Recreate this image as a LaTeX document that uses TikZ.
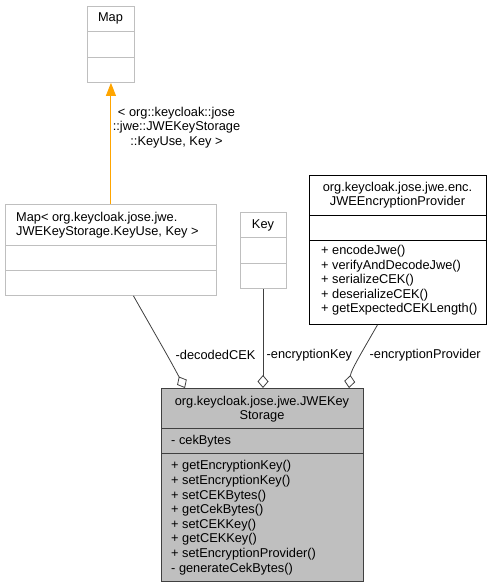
\documentclass[tikz,border=0pt]{standalone}
\usepackage{fontspec}
\setmainfont{Liberation Sans}
\usetikzlibrary{arrows.meta}
\definecolor{edgegray}{HTML}{404040}
\definecolor{boxgray}{HTML}{BFBFBF}
\definecolor{lightedge}{HTML}{BFBFBF}
\definecolor{inhorange}{HTML}{FFA500}
\tikzset{
  txt/.style={inner sep=0pt, font=\fontsize{12.8}{14.6}\selectfont, text=black},
  greybox/.style={draw=lightedge, line width=0.9pt, fill=white, inner sep=0pt, anchor=north west},
  blackbox/.style={draw=black, line width=0.9pt, fill=white, inner sep=0pt, anchor=north west},
  mainbox/.style={draw=edgegray, line width=1pt, fill=boxgray, inner sep=0pt, anchor=north west},
  agg/.style={draw=edgegray, line width=0.8pt, {Diamond[open,length=13pt,width=11pt,line width=0.8pt]}-},
  inh/.style={draw=inhorange, line width=1pt, -{Triangle[length=13pt,width=10pt]}}
}
\begin{document}
\begin{tikzpicture}[x=1pt,y=-1pt]
\useasboundingbox (0,0) rectangle (496,588);
% Map
\node[greybox, minimum width=47pt, minimum height=76pt] (map) at (87,6) {};
\draw[lightedge, line width=0.9pt] (87,31) -- (134,31) (87,57) -- (134,57);
\node[txt] (maptitle) at (110.5,18) {Map};
% Map< ... >
\node[greybox, minimum width=211pt, minimum height=91pt] (mapkv) at (5,204) {};
\draw[lightedge, line width=0.9pt] (5,245) -- (216,245) (5,270) -- (216,270);
\node[txt, anchor=west] (mapkv1) at (16,218) {Map< org.keycloak.jose.jwe.};
\node[txt, anchor=west] (mapkv2) at (16,232) {JWEKeyStorage.KeyUse, Key >};
% Key
\node[greybox, minimum width=46pt, minimum height=76pt] (key) at (240,212) {};
\draw[lightedge, line width=0.9pt] (240,237) -- (286,237) (240,263) -- (286,263);
\node[txt] (keytitle) at (263,225) {Key};
% JWEEncryptionProvider
\node[blackbox, minimum width=177pt, minimum height=149pt] (enc) at (309,175) {};
\draw[black, line width=0.9pt] (309,215) -- (486,215) (309,240) -- (486,240);
\node[txt] (enc1) at (397.5,188.5) {org.keycloak.jose.jwe.enc.};
\node[txt] (enc2) at (397.5,202.5) {JWEEncryptionProvider};
\node[txt, anchor=north west, align=left] (encm) at (321,245) {+ encodeJwe()\\+ verifyAndDecodeJwe()\\+ serializeCEK()\\+ deserializeCEK()\\+ getExpectedCEKLength()};
% Main class
\node[mainbox, minimum width=202pt, minimum height=193pt] (main) at (161,388) {};
\draw[edgegray, line width=1pt] (161,428) -- (363,428) (161,453) -- (363,453);
\node[txt] (main1) at (262,402) {org.keycloak.jose.jwe.JWEKey};
\node[txt] (main2) at (262,416) {Storage};
\node[txt, anchor=west] (attr) at (171,441) {- cekBytes};
\node[txt, anchor=north west, align=left] (mainm) at (171,460.5) {+ getEncryptionKey()\\+ setEncryptionKey()\\+ setCEKBytes()\\+ getCekBytes()\\+ setCEKKey()\\+ getCEKKey()\\+ setEncryptionProvider()\\- generateCekBytes()};
% inheritance
\draw[inh] (mapkv.north -| map.south) -- (map.south);
\node[txt, align=center] (inhlbl) at (176.5,127.5) {< org::keycloak::jose\\::jwe::JWEKeyStorage\\::KeyUse, Key >};
% aggregations
\coordinate (d1) at (185,388);
\coordinate (d2) at (263,388);
\coordinate (d3) at (349,388);
\draw[agg] (d1) .. controls (170,360) .. ([xshift=22.5pt]mapkv.south);
\draw[agg] (d2) -- (d2 |- key.south);
\draw[agg] (d3) .. controls (351,370) and (362,352) .. ([xshift=-20.5pt]enc.south);
\node[txt, anchor=west] (l1) at (175.5,355) {-decodedCEK};
\node[txt, anchor=west] (l2) at (266.5,355) {-encryptionKey};
\node[txt, anchor=west] (l3) at (369.5,355) {-encryptionProvider};
\end{tikzpicture}
\end{document}
